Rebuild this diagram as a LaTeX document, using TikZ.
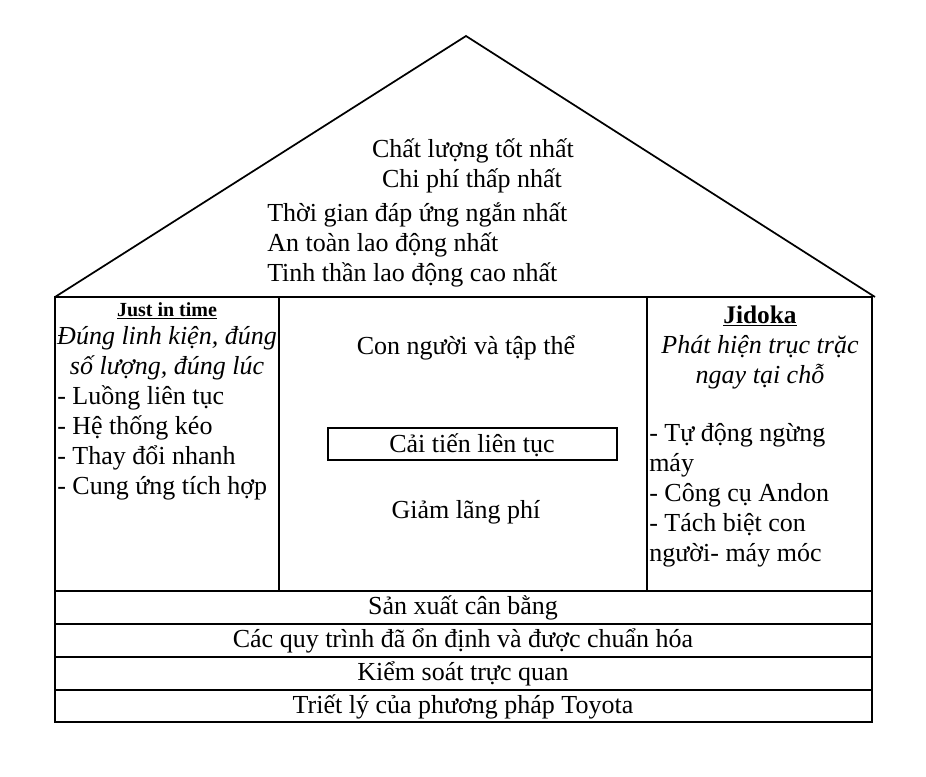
\documentclass[tikz,border=0pt]{standalone}
\usepackage{fontspec}
\setmainfont{Liberation Serif}
\tikzset{
	mid/.style={anchor=base, inner sep=0pt, font=\fontsize{19.5}{22.5}\selectfont},
	lft/.style={anchor=base west, inner sep=0pt, font=\fontsize{19.5}{22.5}\selectfont},
	wall/.style={line width=2pt},
}

\begin{document}
\begin{tikzpicture}[x=0.75pt, y=-0.75pt]
	\useasboundingbox (0,0) rectangle (926,776);
	
	% mai nha
	\draw[line width=1.3pt] (55,297) -- (466,36) -- (875,297);
	\node[mid] (goal1) at (473,157) {Chất lượng tốt nhất};
	\node[mid] (goal2) at (472,187) {Chi phí thấp nhất};
	\node[lft] (goal3) at (267,221) {Thời gian đáp ứng ngắn nhất};
	\node[lft] (goal4) at (267,251) {An toàn lao động nhất};
	\node[lft] (goal5) at (267,281) {Tinh thần lao động cao nhất};
	
	% than nha
	\draw[wall] (55,297) rectangle (872,722);
	\draw[wall] (279,297) -- (279,591);
	\draw[wall] (647,297) -- (647,591);
	\draw[wall] (55,591) -- (872,591);
	\draw[wall] (55,624) -- (872,624);
	\draw[wall] (55,657) -- (872,657);
	\draw[wall] (55,690) -- (872,690);
	
	% cot trai
	\node[mid, font=\fontsize{15}{18}\selectfont\bfseries] (jit) at (167,316) {\underline{Just in time}};
	\node[mid, font=\fontsize{19.5}{22.5}\selectfont\itshape] (jit1) at (167,344) {Đúng linh kiện, đúng};
	\node[mid, font=\fontsize{19.5}{22.5}\selectfont\itshape] (jit2) at (167,374) {số lượng, đúng lúc};
	\node[lft] (jit3) at (57,404) {- Luồng liên tục};
	\node[lft] (jit4) at (57,434) {- Hệ thống kéo};
	\node[lft] (jit5) at (57,464) {- Thay đổi nhanh};
	\node[lft] (jit6) at (57,494) {- Cung ứng tích hợp};
	
	% giua
	\node[mid] (con) at (466,354) {Con người và tập thể};
	\draw[line width=1.5pt] (328,428) rectangle (617,460);
	\node[mid] (kaizen) at (472,452) {Cải tiến liên tục};
	\node[mid] (giam) at (466,518) {Giảm lãng phí};
	
	% cot phai
	\node[mid, font=\fontsize{19}{22.5}\selectfont\bfseries] (jid) at (760,323) {\underline{Jidoka}};
	\node[mid, font=\fontsize{19.5}{22.5}\selectfont\itshape] (jid1) at (760,353) {Phát hiện trục trặc};
	\node[mid, font=\fontsize{19.5}{22.5}\selectfont\itshape] (jid2) at (760,383) {ngay tại chỗ};
	\node[lft] (jid3) at (649,441) {- Tự động ngừng};
	\node[lft] (jid4) at (649,471) {máy};
	\node[lft] (jid5) at (649,501) {- Công cụ Andon};
	\node[lft] (jid6) at (649,531) {- Tách biệt con};
	\node[lft] (jid7) at (649,561) {người- máy móc};
	
	% nen mong
	\node[mid] (base1) at (463,614) {Sản xuất cân bằng};
	\node[mid] (base2) at (463,647) {Các quy trình đã ổn định và được chuẩn hóa};
	\node[mid] (base3) at (463,680) {Kiểm soát trực quan};
	\node[mid] (base4) at (463,713) {Triết lý của phương pháp Toyota};
\end{tikzpicture}
\end{document}
